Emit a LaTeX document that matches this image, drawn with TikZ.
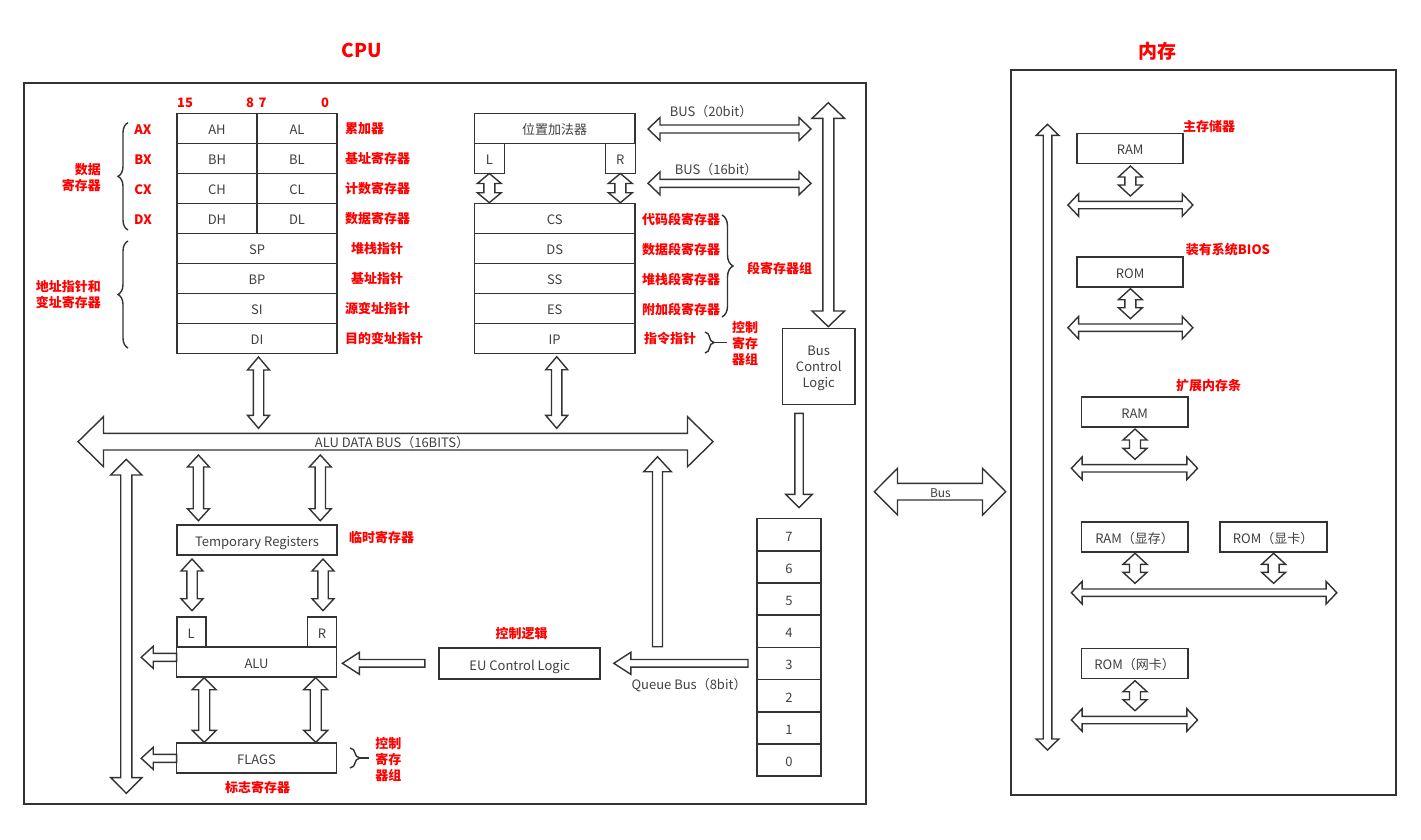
\documentclass[tikz,border=0pt]{standalone}
\usepackage{fontspec}
\setmainfont{Noto Sans CJK SC}
\usetikzlibrary{decorations.pathreplacing}
\definecolor{ln}{HTML}{333333}
\definecolor{tx}{HTML}{404040}
\definecolor{rd}{HTML}{FF0000}
% block arrows
\newcommand{\blkH}[6]{\draw[barrow] (#1,#3) -- (#1+#6,#3-#5) -- (#1+#6,#3-#4) -- (#2-#6,#3-#4) -- (#2-#6,#3-#5) -- (#2,#3) -- (#2-#6,#3+#5) -- (#2-#6,#3+#4) -- (#1+#6,#3+#4) -- (#1+#6,#3+#5) -- cycle;}
\newcommand{\blkV}[6]{\draw[barrow] (#1,#2) -- (#1+#5,#2+#6) -- (#1+#4,#2+#6) -- (#1+#4,#3-#6) -- (#1+#5,#3-#6) -- (#1,#3) -- (#1-#5,#3-#6) -- (#1-#4,#3-#6) -- (#1-#4,#2+#6) -- (#1-#5,#2+#6) -- cycle;}
\newcommand{\blkL}[6]{\draw[barrow] (#1,#3) -- (#1+#6,#3-#5) -- (#1+#6,#3-#4) -- (#2,#3-#4) -- (#2,#3+#4) -- (#1+#6,#3+#4) -- (#1+#6,#3+#5) -- cycle;}
\newcommand{\blkD}[6]{\draw[barrow] (#1-#4,#2) -- (#1+#4,#2) -- (#1+#4,#3-#6) -- (#1+#5,#3-#6) -- (#1,#3) -- (#1-#5,#3-#6) -- (#1-#4,#3-#6) -- cycle;}
\newcommand{\blkU}[6]{\draw[barrow] (#1,#2) -- (#1+#5,#2+#6) -- (#1+#4,#2+#6) -- (#1+#4,#3) -- (#1-#4,#3) -- (#1-#4,#2+#6) -- (#1-#5,#2+#6) -- cycle;}
\begin{document}
\begin{tikzpicture}[x=1pt,y=-1pt,
 reg/.style={draw=ln, line width=1.6pt, fill=white, minimum height=30pt, inner sep=0pt, font=\fontsize{13}{15}\selectfont, text=tx, text height=13pt, text depth=0pt},
 frame/.style={draw=ln, line width=1.6pt, inner sep=0pt},
 barrow/.style={draw=ln, line width=1.4pt, fill=white, line join=miter},
 rlab/.style={text=rd, font=\fontsize{13}{16}\selectfont\bfseries, inner sep=0pt},
 glab/.style={text=tx, font=\fontsize{13}{15}\selectfont, inner sep=0pt},
 ttl/.style={text=rd, font=\fontsize{19}{22}\selectfont\bfseries, inner sep=0pt},
 cbrace/.style={draw=ln, line width=1.4pt, decorate, decoration={brace, amplitude=#1}},
 cbrace/.default=10pt,
]
\useasboundingbox (0,0) rectangle (1421,839);
% frames
\node[frame, minimum width=842pt, minimum height=721pt] (cpu) at (445,443.5) {};
\node[frame, minimum width=385pt, minimum height=725pt] (mem) at (1203.5,432.5) {};
\node[ttl] (tcpu) at (362,50) {CPU};
\node[ttl] (tmem) at (1157,51) {内存};

% ---------- general registers
\node[rlab] (b15) at (185,102.7) {15};
\node[rlab] (b8) at (250,102.7) {8};
\node[rlab] (b7) at (262.7,102.7) {7};
\node[rlab] (b0) at (325,102.7) {0};
\foreach \n/\h/\l/\y in {A/AH/AL/128.3, B/BH/BL/158.3, C/CH/CL/188.3, D/DH/DL/218.3}{
  \node[reg, minimum width=80pt] (\h) at (217,\y) {\h};
  \node[reg, minimum width=80pt] (\l) at (297,\y) {\l};
  \node[rlab] (\n X) at (143,\y+1) {\n X};
}
\foreach \r/\y in {SP/248.3, BP/278.3, SI/308.3, DI/338.3}{
  \node[reg, minimum width=160pt] (\r) at (257,\y) {\r};
}
\node[rlab, anchor=west] (lax) at (345,128.8) {累加器};
\node[rlab, anchor=west] (lbx) at (345,158.8) {基址寄存器};
\node[rlab, anchor=west] (lcx) at (345,188.8) {计数寄存器};
\node[rlab, anchor=west] (ldx) at (345,218.8) {数据寄存器};
\node[rlab, anchor=west] (lsp) at (351,248.8) {堆栈指针};
\node[rlab, anchor=west] (lbp) at (351,278.8) {基址指针};
\node[rlab, anchor=west] (lsi) at (345,308.8) {源变址指针};
\node[rlab, anchor=west] (ldi) at (345,338.8) {目的变址指针};
\draw[cbrace] (128,230) -- (128,122.7);
\draw[cbrace] (128,348) -- (128,241);
\node[rlab, anchor=east, align=right] (ldata) at (101,177.5) {数据\\寄存器};
\node[rlab, anchor=east, align=right] (laddr) at (101,295) {地址指针和\\变址寄存器};

% ---------- segment registers
\node[reg, minimum width=160.7pt] (adder) at (554.7,128.3) {位置加法器};
\node[reg, minimum width=30pt] (aL) at (489.3,158.3) {L};
\node[reg, minimum width=30pt] (aR) at (620.3,158.3) {R};
\foreach \r/\y in {CS/218.3, DS/248.3, SS/278.3, ES/308.3, IP/338.3}{
  \node[reg, minimum width=160.7pt] (\r) at (554.7,\y) {\r};
}
\blkV{489.3}{173.5}{202.7}{5.5}{12}{10}
\blkV{620.3}{173.5}{202.7}{5.5}{12}{10}
\node[rlab, anchor=west] (lcs) at (642,219) {代码段寄存器};
\node[rlab, anchor=west] (lds) at (642,249) {数据段寄存器};
\node[rlab, anchor=west] (lss) at (642,279) {堆栈段寄存器};
\node[rlab, anchor=west] (les) at (642,309) {附加段寄存器};
\node[rlab, anchor=west] (lip) at (644,339) {指令指针};
\draw[cbrace=11pt] (722,215) -- (722,317);
\node[rlab, anchor=west] (lseg) at (747,268) {段寄存器组};
\draw[cbrace=9pt] (705,332) -- (705,353);
\draw[draw=ln, line width=1.4pt] (714,342.5) -- (727,342.5);
\node[rlab, align=center] (lctl1) at (745,344) {控制\\寄存\\器组};

% ---------- buses to BIU
\blkH{648}{811}{129}{4}{11.5}{12}
\node[glab] (lbus20) at (711,111.5) {BUS（20bit）};
\blkH{648}{811}{183.3}{4}{11.5}{12}
\node[glab] (lbus16) at (716,170) {BUS（16bit）};
\blkV{828.3}{102.7}{326.7}{5.5}{16.3}{15.7}
\node[reg, minimum width=72.7pt, minimum height=76pt] (bcl) at (818.7,366.3) {};
\node[glab, align=center, font=\fontsize{13}{16}\selectfont] (bcltxt) at (818.7,368.5) {Bus\\Control\\Logic};
\blkD{799}{413.3}{507.7}{4.2}{13.3}{13.4}

% ---------- ALU data bus
\blkH{78}{713}{441.7}{8.3}{25}{25.5}
\node[glab] (lalubus) at (392,443) {ALU DATA BUS（16BITS）};
\blkV{258.5}{357}{428.3}{5.2}{11}{13}
\blkV{556.7}{356.7}{428.3}{5.2}{11}{13}
\blkV{198.4}{455}{520.7}{5.2}{11}{12}
\blkV{320.3}{455}{520.7}{5.2}{11}{12}
\blkV{126.3}{459.3}{793.3}{5.6}{15.6}{15.7}
\blkU{657.5}{456.7}{646.7}{5}{13.8}{15}

% ---------- EU
\node[reg, minimum width=160pt] (temp) at (257,540) {Temporary Registers};
\node[rlab, anchor=west] (ltemp) at (349,538) {临时寄存器};
\blkV{192}{559}{610.7}{5.2}{11}{12}
\blkV{323}{559}{610.7}{5.2}{11}{12}
\node[reg, minimum width=29pt] (uL) at (191.2,631.7) {L};
\node[reg, minimum width=29pt] (uR) at (322,631.7) {R};
\node[reg, minimum width=160pt] (alu) at (256.5,661.7) {ALU};
\node[reg, minimum width=160pt] (flags) at (256.5,757.7) {FLAGS};
\blkV{204.2}{677.7}{742.3}{5.5}{12}{12}
\blkV{315.7}{677.7}{742.3}{5.5}{12}{12}
\blkL{141.2}{176.6}{657.3}{4}{11}{12}
\blkL{141.2}{176.6}{758.3}{4}{11}{12}
\node[rlab] (lflags) at (257.5,787.3) {标志寄存器};
\draw[cbrace=10pt] (350,748) -- (350,768);
\draw[draw=ln, line width=1.4pt] (359,758) -- (369,758);
\node[rlab, align=center] (lctl2) at (388.4,760) {控制\\寄存\\器组};
\node[reg, minimum width=161pt, minimum height=30.7pt] (eu) at (519.7,663.6) {EU Control Logic};
\node[rlab] (leu) at (521.7,633.3) {控制逻辑};
\blkL{342.4}{424.8}{663.3}{3.8}{11}{17}
\blkL{613.8}{748}{663.3}{3.8}{11}{17}
\node[glab] (lqbus) at (689,685) {Queue Bus（8bit）};
\foreach \i/\lab in {0/7,1/6,2/5,3/4,4/3,5/2,6/1,7/0}{
  \node[reg, minimum width=64.5pt, minimum height=32.2pt] (q\lab) at (789,{534.6+\i*32.2}) {\lab};
}

% ---------- system bus
\blkH{874.3}{1005.7}{491.7}{8.3}{23.3}{23.2}
\node[glab, font=\fontsize{12}{14}\selectfont] (lbus) at (940.4,493) {Bus};

% ---------- memory
\blkV{1047.5}{124.3}{750}{4.3}{11.3}{11}
\node[reg, minimum width=106pt] (ram1) at (1130.1,148.3) {RAM};
\node[rlab, anchor=west] (lram1) at (1183,126.7) {主存储器};
\blkV{1130.4}{166}{196}{5.5}{12}{11}
\blkH{1067.9}{1192.9}{205}{3.7}{11.3}{10.7}
\node[reg, minimum width=106pt] (rom1) at (1130.1,271.7) {ROM};
\node[rlab, anchor=west] (lrom1) at (1185.7,250) {装有系统BIOS};
\blkV{1130.4}{288.7}{318.7}{5.5}{12}{11}
\blkH{1067.9}{1192.9}{327.7}{3.7}{11.3}{10.7}
\node[reg, minimum width=106.5pt] (ram2) at (1134.6,411.7) {RAM};
\node[rlab, anchor=west] (lram2) at (1176,386) {扩展内存条};
\blkV{1135}{429}{459.3}{5.5}{12}{11}
\blkH{1071.4}{1197.5}{468.3}{3.7}{11.3}{10.7}
\node[reg, minimum width=106.5pt] (vram) at (1134.6,536.7) {RAM（显存）};
\node[reg, minimum width=107pt] (vrom) at (1273.2,536.7) {ROM（显卡）};
\blkV{1135}{553.3}{583.3}{5.5}{12}{11}
\blkV{1273.6}{553.3}{583.3}{5.5}{12}{11}
\blkH{1071.4}{1336.8}{592.7}{3.7}{11.3}{10.7}
\node[reg, minimum width=106.5pt] (nrom) at (1134.6,663.3) {ROM（网卡）};
\blkV{1135}{680.7}{710.7}{5.5}{12}{11}
\blkH{1071.4}{1197.5}{720}{3.7}{11.3}{10.7}
\end{tikzpicture}
\end{document}
